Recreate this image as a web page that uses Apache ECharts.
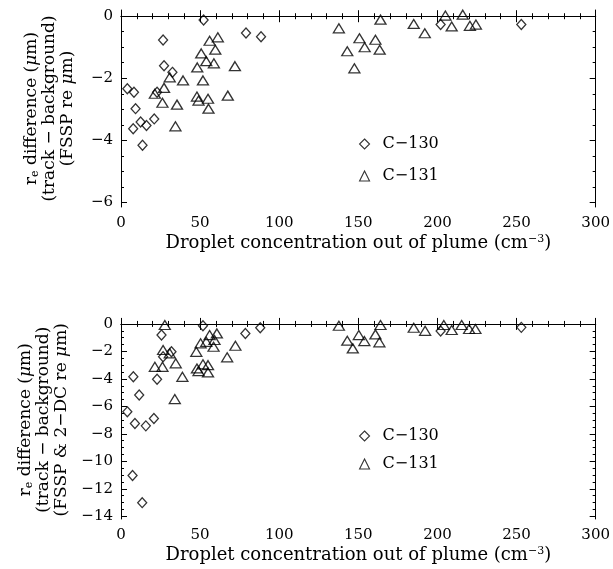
<!DOCTYPE html>
<html>
<head>
<meta charset="utf-8">
<title>re difference vs droplet concentration</title>
<script src="https://cdn.jsdelivr.net/npm/echarts@6/dist/echarts.min.js"></script>
<style>
  html, body { margin: 0; padding: 0; background: #fff; }
  #chart { width: 613px; height: 569px; }
</style>
</head>
<body>
<div id="chart"></div>
<script>
// x = droplet concentration out of plume (cm-3), y = re difference (um)
var xTicks = [0, 50, 100, 150, 200, 250, 300];
var topYTicks = [-6, -4, -2, 0];
var botYTicks = [-14, -12, -10, -8, -6, -4, -2, 0];
var seriesNames = ['C\u2212130', 'C\u2212131'];

// upper panel: FSSP re
var c130Top = [
  [52.2, -0.12], [26.6, -0.77], [79, -0.54], [88.5, -0.66], [27.2, -1.6],
  [32.5, -1.81], [4, -2.34], [8.2, -2.45], [22.8, -2.45], [9.2, -2.98],
  [7.7, -3.63], [12.4, -3.41], [16.1, -3.52], [21, -3.31], [13.6, -4.16],
  [202, -0.27], [253, -0.27]
];
var c131Top = [
  [50.7, -1.2], [56, -0.79], [61.2, -0.68], [59.6, -1.08], [53.9, -1.45],
  [58.7, -1.52], [48.2, -1.65], [72, -1.61], [51.8, -2.07], [39.2, -2.07],
  [30.8, -1.97], [27.2, -2.31], [21.4, -2.5], [26.2, -2.79], [35.4, -2.85],
  [34.4, -3.55], [48, -2.59], [49, -2.72], [55, -2.66], [55.3, -2.98],
  [67.5, -2.56],
  [137.7, -0.39], [164, -0.11], [185, -0.25], [192, -0.55], [205, 0.02],
  [209, -0.33], [216, 0.05], [220.5, -0.31], [224.3, -0.27], [150.7, -0.71],
  [154, -1.0], [160.8, -0.76], [163.5, -1.08], [143, -1.13], [147.5, -1.68]
];

// lower panel: FSSP & 2-DC re
var c130Bot = [
  [51.8, -0.13], [25.6, -0.81], [78.6, -0.69], [88, -0.28], [31.9, -2.03],
  [26.6, -2.39], [22.8, -4.02], [7.8, -3.85], [11.5, -5.18], [4, -6.4],
  [8.8, -7.25], [15.7, -7.42], [20.8, -6.88], [7.3, -11.04], [13.4, -13.01],
  [202, -0.52], [253, -0.25]
];
var c131Bot = [
  [27.7, -0.08], [47.6, -2.03], [50.3, -1.41], [56, -0.81], [60.6, -0.69],
  [59.1, -1.17], [53.9, -1.3], [58.5, -1.66], [72.3, -1.59], [51.8, -2.94],
  [48, -3.24], [49, -3.43], [55, -3.0], [55, -3.53], [67.1, -2.43],
  [26.6, -1.9], [30.8, -2.14], [26.2, -3.12], [21.4, -3.12], [34.6, -2.87],
  [38.8, -3.85], [34, -5.47],
  [137.7, -0.13], [164, -0.08], [185, -0.28], [192.2, -0.5], [204, -0.08],
  [209, -0.44], [215.3, -0.08], [220, -0.37], [224, -0.37], [150.3, -0.81],
  [153.8, -1.25], [160.8, -0.76], [163.3, -1.34], [143, -1.22], [146.5, -1.78]
];

var FONT = 'DejaVu Serif';
var INK = '#000';
var minus = function (v) { return String(v).replace('-', '\u2212'); };

var titleRich = {
  sub: { fontFamily: FONT, fontSize: 11, lineHeight: 11, verticalAlign: 'bottom', color: INK },
  sup: { fontFamily: FONT, fontSize: 11, lineHeight: 11, verticalAlign: 'top', color: INK },
  it: { fontFamily: FONT, fontSize: 17, fontStyle: 'italic', color: INK }
};

function halfSteps(min, max, majors) {
  var out = [];
  for (var i = Math.ceil(min * 2); i <= Math.floor(max * 2); i++) {
    if (majors.indexOf(i / 2) < 0) out.push(i / 2);
  }
  return out;
}

function xAxes(grid) {
  var base = {
    gridIndex: grid, type: 'value', min: 0, max: 300, interval: 50,
    axisLine: { show: true, lineStyle: { color: INK, width: 1 } },
    axisTick: { show: true, inside: true, length: 6, lineStyle: { color: INK } },
    minorTick: { show: true, splitNumber: 5, length: 3, lineStyle: { color: INK } },
    splitLine: { show: false }
  };
  return [
    Object.assign({}, base, {
      position: 'bottom',
      axisLabel: { color: INK, fontFamily: FONT, fontSize: 15, margin: 9, formatter: minus },
      name: 'Droplet concentration out of plume (cm{sup|\u22123})',
      nameLocation: 'middle', nameGap: 36,
      nameTextStyle: { fontFamily: FONT, fontSize: 18, color: INK, verticalAlign: 'middle', rich: titleRich }
    }),
    Object.assign({}, base, { position: 'top', axisLabel: { show: false } })
  ];
}

function yAxes(grid, min, max, majors, name, gap) {
  var minors = halfSteps(min, max, majors);
  var axis = function (side, ticks, len, withLabels) {
    var a = {
      gridIndex: grid, type: 'value', position: side, min: min, max: max,
      axisLine: { show: len > 4, lineStyle: { color: INK, width: 1 } },
      axisTick: { show: true, inside: true, length: len, customValues: ticks, lineStyle: { color: INK } },
      axisLabel: { show: false },
      splitLine: { show: false }
    };
    if (withLabels) {
      a.axisLabel = { show: true, customValues: majors, formatter: minus, color: INK,
        fontFamily: FONT, fontSize: 15, margin: 8 };
      a.name = name;
      a.nameLocation = 'middle';
      a.nameRotate = 90;
      a.nameGap = gap;
      a.nameTextStyle = { fontFamily: FONT, fontSize: 17, lineHeight: 18, color: INK,
        align: 'center', verticalAlign: 'middle', rich: titleRich };
    }
    return a;
  };
  return [
    axis('left', majors, 6, true),
    axis('left', minors, 3, false),
    axis('right', majors, 6, false),
    axis('right', minors, 3, false)
  ];
}

function marks(name, data, xi, yi, isDiamond) {
  return {
    name: name, type: 'scatter', xAxisIndex: xi, yAxisIndex: yi, data: data,
    symbol: isDiamond ? 'diamond' : 'triangle',
    symbolSize: isDiamond ? [9, 10] : [11, 9],
    itemStyle: { color: 'rgba(255,255,255,0)', borderColor: INK, borderWidth: 1.3 },
    emphasis: { disabled: true },
    silent: true
  };
}

var topName = 'r{sub|e} difference ({it|\u03bc}m)\n(track \u2212 background)\n(FSSP re {it|\u03bc}m)';
var botName = 'r{sub|e} difference ({it|\u03bc}m)\n(track \u2212 background)\n(FSSP & 2\u2212DC re {it|\u03bc}m)';

var legendText = { fontFamily: FONT, fontSize: 16, lineHeight: 16, color: INK, padding: [0, 0, 0, 8] };
var legendMark = { color: 'rgba(255,255,255,0)', borderColor: INK, borderWidth: 1.1 };

var myChart = echarts.init(document.getElementById('chart'), null, { renderer: 'canvas' });
var option = {
  backgroundColor: '#fff',
  animation: false,
  grid: [
    { left: 121, right: 15, top: 10, height: 197 },
    { left: 121, right: 15, top: 320.5, height: 198.5 }
  ],
  legend: [
    { data: seriesNames, orient: 'vertical', left: 354, top: 131, itemWidth: 10, itemHeight: 10,
      itemGap: 16, textStyle: legendText, itemStyle: legendMark, selectedMode: false },
    { data: seriesNames, orient: 'vertical', left: 354, top: 423, itemWidth: 10, itemHeight: 10,
      itemGap: 12, textStyle: legendText, itemStyle: legendMark, selectedMode: false }
  ],
  xAxis: xAxes(0).concat(xAxes(1)),
  yAxis: yAxes(0, -6.15, 0.2, topYTicks, topName, 71).concat(yAxes(1, -14.2, 0.25, botYTicks, botName, 73)),
  series: [
    marks(seriesNames[0], c130Top, 0, 0, true),
    marks(seriesNames[1], c131Top, 0, 0, false),
    marks(seriesNames[0], c130Bot, 2, 4, true),
    marks(seriesNames[1], c131Bot, 2, 4, false)
  ]
};
myChart.setOption(option);
</script>
</body>
</html>
